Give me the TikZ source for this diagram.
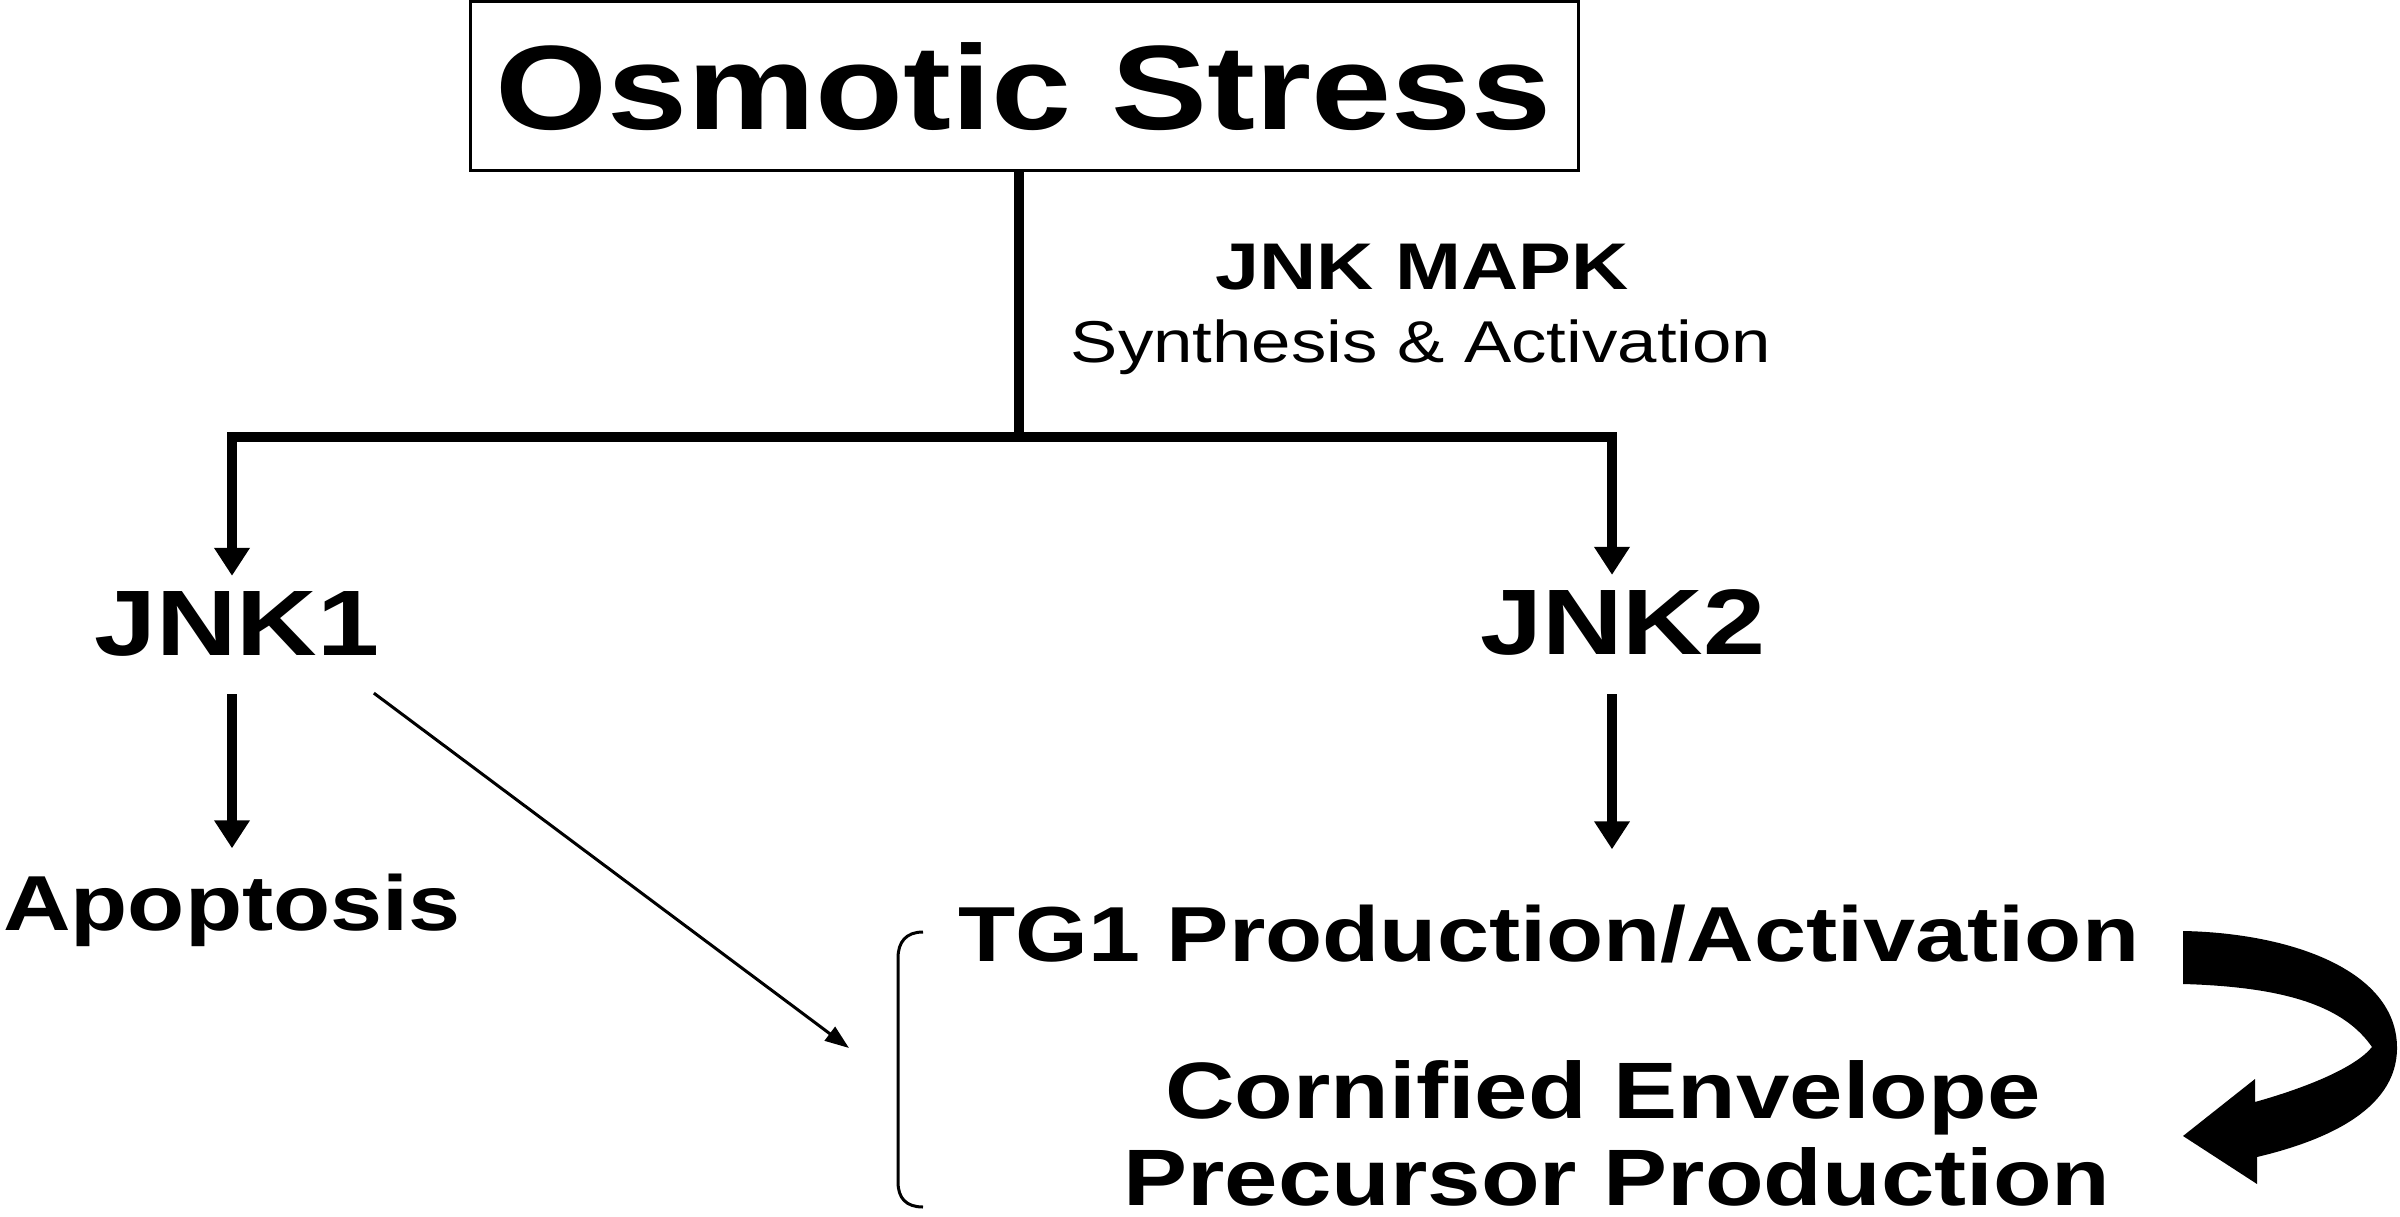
\documentclass[tikz,border=0pt]{standalone}
\usepackage{fontspec}
\setmainfont{Liberation Sans}[FakeStretch=1.2]
\usetikzlibrary{arrows.meta}
\newcommand\fsz[1]{\fontsize{#1pt}{#1pt}\selectfont}
\begin{document}
\begin{tikzpicture}[x=1pt,y=-1pt,
  lbl/.style={inner sep=0pt, anchor=base},
  thickline/.style={line width=10pt},
  arr/.style={thickline, -{Triangle[length=28pt,width=34pt]}},
  thinarr/.style={line width=3pt, -{Triangle[length=24pt,width=17pt]}}]
\useasboundingbox (0,0) rectangle (2400,1217);
\fill[white] (0,0) rectangle (2400,1217);

% top box
\node[draw, line width=3pt, minimum width=1108pt, minimum height=169pt,
      inner sep=0pt, text height=86pt, text depth=0pt,
      font=\fsz{120}\bfseries] (osm) at (1024,86.5) {Osmotic Stress};

% labels
\node[lbl, font=\fsz{66}\bfseries] (mapk) at (1422,289) {JNK MAPK};
\node[lbl, font=\fsz{59}] (syn) at (1421,362) {Synthesis \& Activation};
\node[lbl, font=\fsz{93}\bfseries] (jnk1) at (237,655) {JNK1};
\node[lbl, font=\fsz{93}\bfseries] (jnk2) at (1623,654) {JNK2};
\node[lbl, font=\fsz{78}\bfseries] (apop) at (232,930) {Apoptosis};
\node[lbl, font=\fsz{78}\bfseries] (tg1) at (1549,961) {TG1 Production/Activation};
\node[lbl, font=\fsz{80}\bfseries] (corn) at (1603,1118) {Cornified Envelope};
\node[lbl, font=\fsz{80}\bfseries] (prec) at (1617,1205) {Precursor Production};

% helper coordinates
\coordinate (split) at (1019,437);
\coordinate (j1x) at (232,0);
\coordinate (j2x) at (1612,0);
\coordinate (brk) at (849,1048);

% tree connectors
\draw[thickline] ([xshift=-5pt]osm.south) -- (split);
\draw[arr, shorten >=15pt] (split) -| (j1x |- jnk1.north);
\draw[arr, shorten >=14pt] (split) -| (j2x |- jnk2.north);
\draw[arr, shorten <=38pt, shorten >=25pt] (j1x |- jnk1.south) -- (j1x |- apop.north);
\draw[arr, shorten <=39pt, shorten >=55pt] (j2x |- jnk2.south) -- (j2x |- tg1.north);

% diagonal arrow
\draw[thinarr] ([xshift=-6pt,yshift=-37pt]jnk1.south east) -- (brk);

% bracket
\draw[line width=3pt] (923,932) .. controls (906,932) and (898,942) .. (898,958)
  -- (898,1182) .. controls (898,1198) and (906,1207) .. (923,1207);

% curved thick arrow
\fill (2183,931) .. controls (2290,933) and (2397,970) .. (2397,1048)
  .. controls (2397,1112) and (2320,1142) .. (2257,1157)
  -- (2257,1184) -- (2183,1136) -- (2255,1079) -- (2255,1102)
  .. controls (2305,1088) and (2355,1068) .. (2372,1047)
  .. controls (2345,1008) and (2290,987) .. (2183,984) -- cycle;
\end{tikzpicture}
\end{document}
